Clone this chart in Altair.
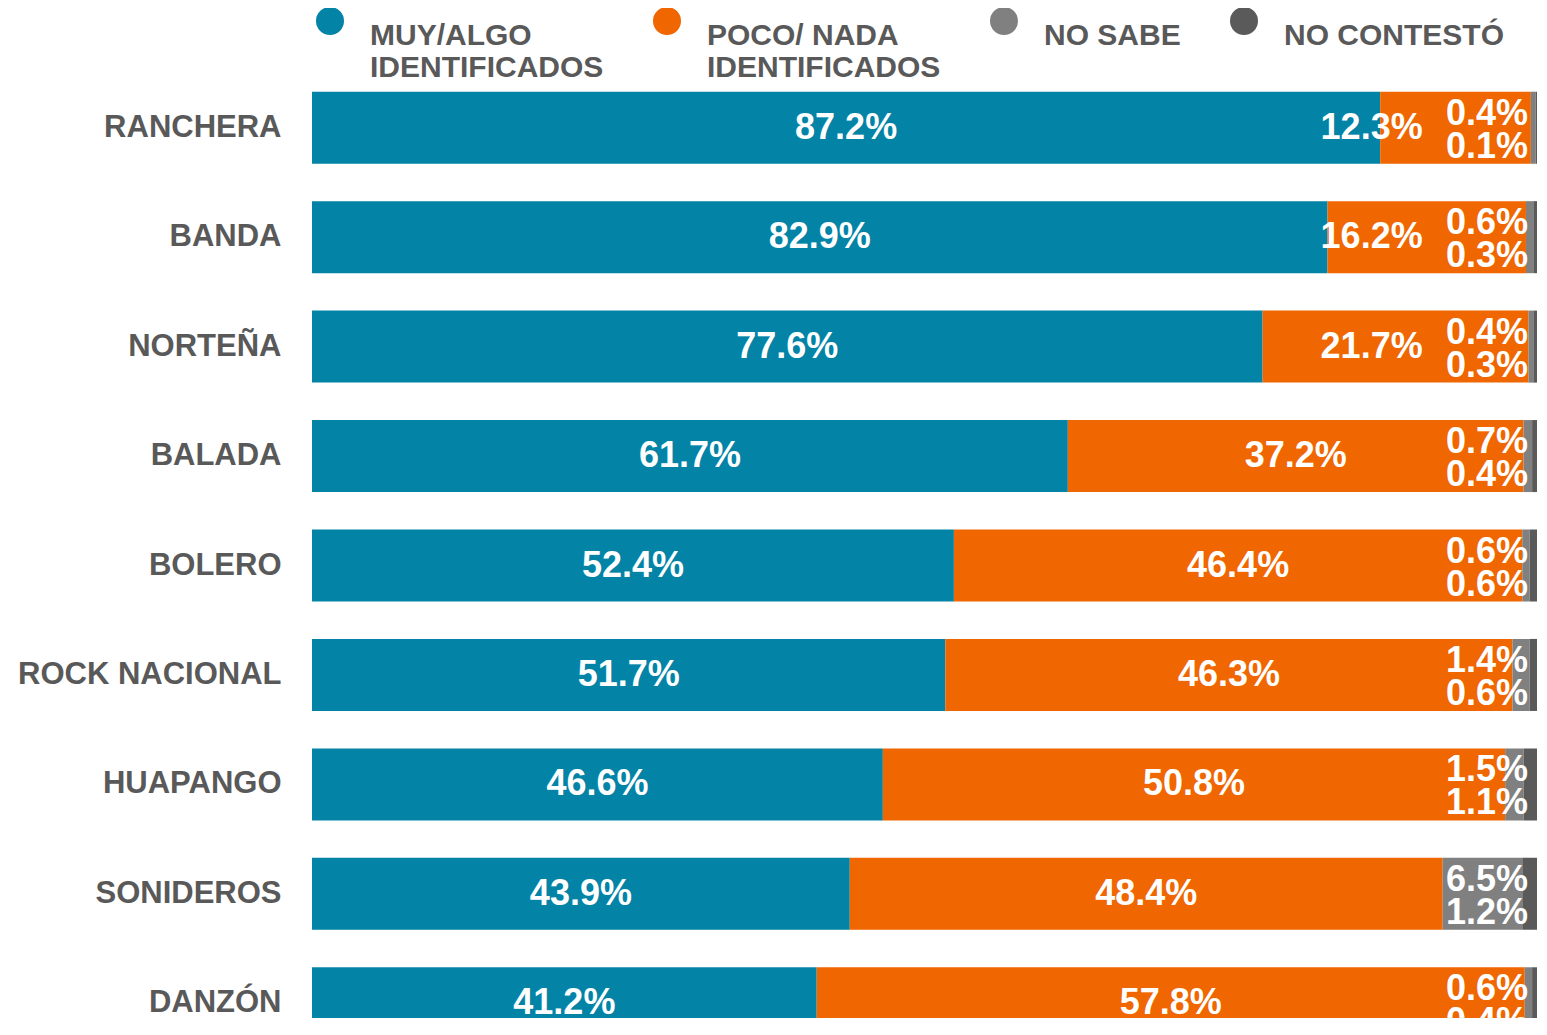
import altair as alt
import pandas as pd

categories = ["RANCHERA", "BANDA", "NORTEÑA", "BALADA", "BOLERO",
              "ROCK NACIONAL", "HUAPANGO", "SONIDEROS", "DANZÓN"]
muy_algo = [87.2, 82.9, 77.6, 61.7, 52.4, 51.7, 46.6, 43.9, 41.2]
poco_nada = [12.3, 16.2, 21.7, 37.2, 46.4, 46.3, 50.8, 48.4, 57.8]
no_sabe = [0.4, 0.6, 0.4, 0.7, 0.6, 1.4, 1.5, 6.5, 0.6]
no_contesto = [0.1, 0.3, 0.3, 0.4, 0.6, 0.6, 1.1, 1.2, 0.4]
series = ["MUY/ALGO|IDENTIFICADOS", "POCO/ NADA|IDENTIFICADOS", "NO SABE| ", "NO CONTESTÓ| "]
colors = ["#0383a6", "#f06600", "#808080", "#5a5a5a"]

FONT = "Liberation Sans"

rows = []
lab_blue, lab_orange, lab_ns, lab_nc = [], [], [], []
for i, cat in enumerate(categories):
    vals = [muy_algo[i], poco_nada[i], no_sabe[i], no_contesto[i]]
    start = 0.0
    for s, v in zip(series, vals):
        rows.append({"cat": cat, "serie": s, "start": start, "end": start + v})
        start += v
    lab_blue.append({"cat": cat, "x": muy_algo[i] / 2, "t": f"{muy_algo[i]:.1f}%"})
    mid = muy_algo[i] + poco_nada[i] / 2
    lab_orange.append({"cat": cat, "x": min(mid, 86.5), "t": f"{poco_nada[i]:.1f}%"})
    lab_ns.append({"cat": cat, "x": 100.0, "t": f"{no_sabe[i]:.1f}%"})
    lab_nc.append({"cat": cat, "x": 100.0, "t": f"{no_contesto[i]:.1f}%"})

df = pd.DataFrame(rows)

yenc = alt.Y(
    "cat:N", sort=categories,
    scale=alt.Scale(range=[0, 985], paddingInner=0.342, paddingOuter=0.171),
    axis=alt.Axis(title=None, ticks=False, domain=False, labelFont=FONT,
                  labelFontSize=31, labelFontWeight="bold", labelColor="#595959",
                  labelPadding=31, labelLimit=400),
)
xscale = alt.Scale(domain=[0, 100], nice=False, zero=False)

bars = alt.Chart(df).mark_bar(clip=False).encode(
    x=alt.X("start:Q", scale=xscale, axis=None),
    x2="end:Q",
    y=yenc,
    color=alt.Color(
        "serie:N", sort=series,
        scale=alt.Scale(domain=series, range=colors),
        legend=alt.Legend(
            orient="none", legendX=2, legendY=-68, direction="horizontal",
            columns=4, title=None, symbolType="circle", symbolSize=900,
            symbolStrokeColor="white", symbolStrokeWidth=2, symbolOpacity=1,
            labelExpr="split(datum.label, '|')", labelFont=FONT,
            labelFontSize=30, labelFontWeight="bold", labelColor="#595959",
            labelBaseline="top", labelOffset=24, columnPadding=44,
            labelLimit=400,
        ),
    ),
)


def text_layer(data, align="center", dx=0, dy=0):
    return alt.Chart(pd.DataFrame(data)).mark_text(
        font=FONT, fontSize=36, fontWeight="bold", color="white",
        align=align, baseline="middle", dx=dx, dy=dy,
    ).encode(x=alt.X("x:Q", scale=xscale, axis=None), y=alt.Y("cat:N", sort=categories), text="t:N")


chart = alt.layer(
    bars,
    text_layer(lab_blue),
    text_layer(lab_orange),
    text_layer(lab_ns, align="right", dx=-9, dy=-14),
    text_layer(lab_nc, align="right", dx=-9, dy=19),
).properties(
    width=1225, height=945,
    background="white",
    autosize=alt.AutoSizeParams(type="none"),
    padding={"left": 304, "top": 65, "right": 2, "bottom": 0},
).configure_view(stroke=None, strokeWidth=0)

chart.save("out.html", embed_options={"renderer": "svg", "actions": False})
